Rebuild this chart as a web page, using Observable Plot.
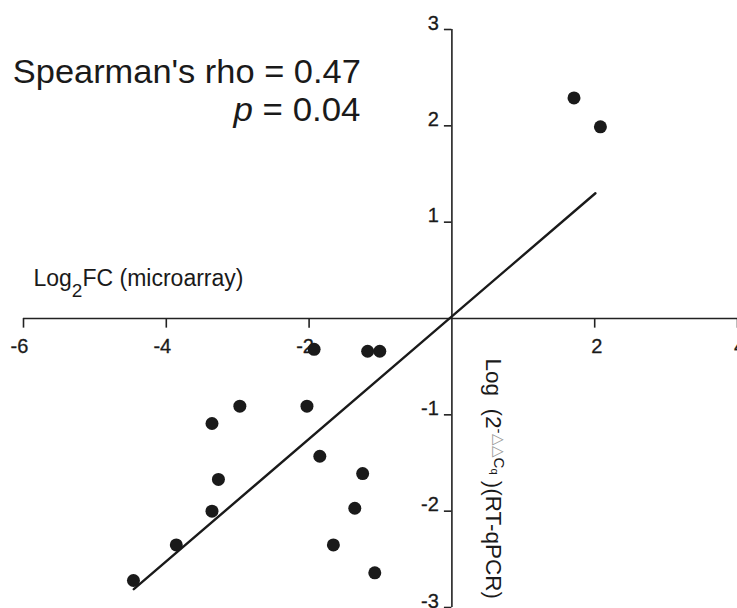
<!DOCTYPE html>
<html><head><meta charset="utf-8">
<script src="https://cdn.jsdelivr.net/npm/d3@7"></script>
<script src="https://cdn.jsdelivr.net/npm/@observablehq/plot@0.6"></script>
<style>body{margin:0;background:#fff;}</style>
</head><body><div id="chart"></div>
<script>
// Data
const microarrayLog2FC = [1.71, 2.08, -1.93, -1.18, -1.01, -2.97, -2.03, -3.36, -1.85, -3.27, -1.25, -3.36, -1.36, -3.86, -1.66, -4.46, -1.08];
const rtqpcrLog = [2.29, 1.99, -0.32, -0.34, -0.34, -0.91, -0.91, -1.09, -1.43, -1.67, -1.61, -2.00, -1.97, -2.35, -2.35, -2.72, -2.64];
const fitX = [-4.455, 2.01];
const fitY = [-2.81, 1.30];
const xTickValues = [-6, -4, -2, 2, 4];
const xTickLabelsNeg = ["-6", "-4", "-2"];
const xTickLabelsPos = ["2", "4"];
const yTickValues = [3, 2, 1, -1, -2, -3];
const yTickLabels = ["3", "2", "1", "-1", "-2", "-3"];
const xAxisLabel = "Log2FC (microarray)";
const yAxisLabel = "Log (2-△△Cq)(RT-qPCR)";
const statLine1 = "Spearman's rho = 0.47";
const statLine2 = "p = 0.04";

const points = microarrayLog2FC.map((x, i) => ({x, y: rtqpcrLog[i]}));
const fit = fitX.map((x, i) => ({x, y: fitY[i]}));
const ink = "#1a1a1a";
const axisInk = "#222";

const chart = Plot.plot({
  width: 737, height: 608,
  marginLeft: 23, marginRight: 0, marginTop: 29, marginBottom: 1,
  x: {domain: [-6, 4], axis: null},
  y: {domain: [-3, 3], axis: null},
  style: {fontFamily: "'Liberation Sans', Arial, sans-serif", background: "#fff", color: ink, overflow: "visible"},
  marks: [
    Plot.ruleY([0], {x1: -6, x2: 4, stroke: axisInk, strokeWidth: 1.6}),
    Plot.ruleX([0], {y1: -3, y2: 3, stroke: axisInk, strokeWidth: 1.6}),
    Plot.ruleX(xTickValues, {x: d => d, y1: 0, y2: -0.1, stroke: axisInk, strokeWidth: 1.6}),
    Plot.ruleY(yTickValues, {y: d => d, x1: -0.105, x2: 0, stroke: axisInk, strokeWidth: 1.6}),
    Plot.text(xTickLabelsNeg, {x: d => +d, y: 0, text: d => d, dy: 34, dx: -4, lineAnchor: "bottom", fontSize: 20, fill: ink, stroke: ink, strokeWidth: 0.3}),
    Plot.text(xTickLabelsPos, {x: d => +d, y: 0, text: d => d, dy: 34, dx: 2, lineAnchor: "bottom", fontSize: 20, fill: ink, stroke: ink, strokeWidth: 0.3}),
    Plot.text(yTickLabels, {x: 0, y: d => +d, text: d => d, dx: -13, textAnchor: "end", lineAnchor: "bottom", fontSize: 20, fill: ink, stroke: ink, strokeWidth: 0.3}),
    Plot.line(fit, {x: "x", y: "y", stroke: ink, strokeWidth: 2.4}),
    Plot.dot(points, {x: "x", y: "y", r: 6.5, fill: ink, stroke: "none"}),
    Plot.text([xAxisLabel], {x: -5.86, y: 0.342, text: d => d, textAnchor: "start", lineAnchor: "bottom", fontSize: 23, fill: ink}),
    Plot.text([yAxisLabel], {x: 0.574, y: -0.415, text: d => d, rotate: 90, textAnchor: "start", lineAnchor: "middle", fontSize: 22.5, fill: ink}),
    Plot.text([statLine1], {x: -6.15, y: 2.446, text: d => d, textAnchor: "start", lineAnchor: "bottom", fontSize: 34, fill: ink}),
    Plot.text([statLine2], {x: -1.28, y: 2.052, text: d => d, textAnchor: "end", lineAnchor: "bottom", fontSize: 34, fill: ink})
  ]
});

const byText = s => Array.from(chart.querySelectorAll("text")).filter(t => t.textContent === s).map(t => d3.select(t));

byText(xAxisLabel).forEach(t => {
  t.text(null);
  t.append("tspan").text("Log");
  t.append("tspan").attr("font-size", "19px").attr("dy", "11px").text("2");
  t.append("tspan").attr("dy", "-11px").text("FC (microarray)");
});
byText(yAxisLabel).forEach(t => {
  t.text(null);
  t.append("tspan").text("Log\u00a0\u00a0(2");
  t.append("tspan").attr("font-size", "15px").attr("dy", "-8px").attr("fill", ink).text("-");
  t.append("tspan").attr("font-size", "15px").attr("fill", "#999").text("△△");
  t.append("tspan").attr("font-size", "15px").attr("fill", ink).text("C");
  t.append("tspan").attr("font-size", "11px").attr("dy", "3px").attr("fill", ink).text("q");
  t.append("tspan").attr("dy", "5px").text("\u00a0)(RT-qPCR)");
});
byText(statLine1).forEach(t => t.attr("textLength", 348).attr("lengthAdjust", "spacingAndGlyphs"));
byText(statLine2).forEach(t => {
  t.text(null);
  t.attr("textLength", 127).attr("lengthAdjust", "spacingAndGlyphs");
  t.append("tspan").attr("font-style", "italic").text("p");
  t.append("tspan").text(" = 0.04");
});

document.getElementById("chart").appendChild(chart);
</script>
</body></html>
